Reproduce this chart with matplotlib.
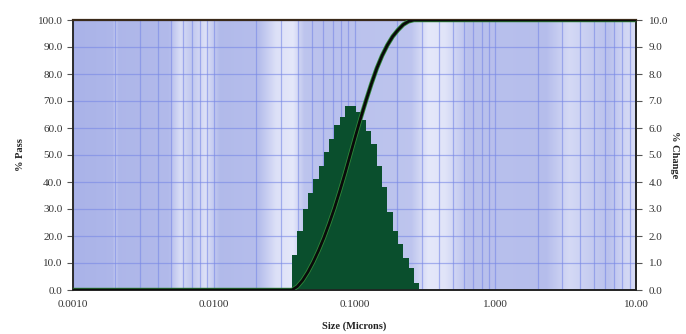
import matplotlib
matplotlib.use("Agg")
import matplotlib.pyplot as plt
from matplotlib.ticker import FixedLocator, FixedFormatter, LogLocator, NullFormatter
import numpy as np

# channel edges (microns), 24 channels
size_edges = [0.0360, 0.03926, 0.04281, 0.04669, 0.05091, 0.05552, 0.06055, 0.06603,
              0.07200, 0.07852, 0.08563, 0.09338, 0.10183, 0.11105, 0.12110, 0.13206,
              0.14401, 0.15705, 0.17126, 0.18676, 0.20366, 0.22209, 0.24220, 0.26412,
              0.28802]
# % change per channel (right axis)
pct_change = [1.3, 2.2, 3.0, 3.6, 4.1, 4.6, 5.1, 5.6, 6.1, 6.4, 6.8, 6.8,
              6.6, 6.3, 5.9, 5.4, 4.6, 3.8, 2.9, 2.2, 1.7, 1.2, 0.8, 0.25]
# cumulative % pass (left axis)
curve_size = [0.001] + size_edges + [10.0]
curve_pass = [0.0, 0.0, 1.3, 3.6, 6.7, 10.4, 14.6, 19.3, 24.6, 30.3, 36.6, 43.2, 50.2,
              57.2, 64.0, 70.4, 76.5, 82.1, 86.8, 90.7, 93.9, 96.3, 98.3, 99.5, 100.0,
              100.0, 100.0]

x_ticks = [0.001, 0.01, 0.1, 1.0, 10.0]
x_labels = ["0.0010", "0.0100", "0.1000", "1.000", "10.00"]
left_ticks = np.arange(0, 101, 10)
right_ticks = np.arange(0, 11, 1)

plt.rcParams["font.family"] = "Liberation Serif"

fig = plt.figure(figsize=(6.86, 3.34), dpi=100)
ax = fig.add_axes([73 / 686, 1 - 290 / 334, (636 - 73) / 686, 270 / 334])
ax.set_xscale("log")
ax.set_xlim(0.001, 10)
ax.set_ylim(0, 100)

# background: blue with light vertical bands
stops_x = [0.0, 0.07, 0.075, 0.08, 0.17, 0.19, 0.21, 0.235, 0.26, 0.33, 0.36, 0.39, 0.41,
           0.45, 0.60, 0.63, 0.66, 0.70, 0.84, 0.88, 0.92, 0.95, 0.98, 1.0]
stops_w = [0.10, 0.15, 0.45, 0.15, 0.20, 0.70, 0.40, 0.75, 0.20, 0.25, 0.75, 0.85, 0.35,
           0.30, 0.35, 0.85, 0.80, 0.30, 0.25, 0.65, 0.45, 0.30, 0.60, 0.70]
xs = np.linspace(0, 1, 800)
w = np.interp(xs, stops_x, stops_w)
blue = np.array([162, 172, 230]) / 255
white = np.array([240, 242, 253]) / 255
img = blue[None, :] * (1 - w[:, None]) + white[None, :] * w[:, None]
ax.imshow(img[None, :, :], extent=[0, 1, 0, 1], transform=ax.transAxes,
          aspect="auto", interpolation="bilinear", zorder=0)

ax.xaxis.set_major_locator(FixedLocator(x_ticks))
ax.xaxis.set_major_formatter(FixedFormatter(x_labels))
ax.xaxis.set_minor_locator(LogLocator(base=10, subs=range(2, 10)))
ax.xaxis.set_minor_formatter(NullFormatter())
ax.set_yticks(left_ticks)
ax.set_yticklabels(["%.1f" % v for v in left_ticks])
ax.grid(which="both", axis="x", color="#7888e6", lw=0.9, alpha=0.6)
ax.grid(which="major", axis="y", color="#7888e6", lw=0.9, alpha=0.6)
ax.tick_params(axis="x", which="both", length=0, pad=7, labelsize=8, labelcolor="#333333")
ax.tick_params(axis="y", length=4, width=0.8, color="#555555", labelsize=8, labelcolor="#333333")
ax.set_xlim(0.001, 10)
ax.set_ylim(0, 100)

ax2 = ax.twinx()
ax2.set_ylim(0, 10)
ax2.stairs(pct_change, size_edges, fill=True, color="#0a4f2d", zorder=2)
ax2.plot(curve_size, curve_pass, color="#2f8a3a", lw=3.2, transform=ax.transData, zorder=3,
         solid_capstyle="butt")
ax2.plot(curve_size, curve_pass, color="#0a0a0a", lw=2.0, transform=ax.transData, zorder=4,
         solid_capstyle="butt")
ax2.set_yticks(right_ticks)
ax2.set_yticklabels(["%.1f" % v for v in right_ticks])
ax2.tick_params(axis="y", length=4, width=0.8, color="#555555", labelsize=8,
                labelcolor="#333333", pad=5)
ax2.set_xlim(0.001, 10)

for a in (ax, ax2):
    for s in a.spines.values():
        s.set_color("#222222")
        s.set_linewidth(1.2)
ax.spines["left"].set_color("#666666")
ax2.spines["top"].set_color("#3a2a1a")
ax2.spines["top"].set_linewidth(1.6)

ax.set_ylabel("% Pass", fontsize=7.5, fontweight="bold", labelpad=9, color="#222222")
ax2.set_ylabel("% Change", fontsize=7.5, fontweight="bold", rotation=270, labelpad=8,
               color="#222222")
ax.set_xlabel("Size (Microns)", fontsize=7.5, fontweight="bold", labelpad=9, color="#222222")

fig.savefig("out.png", dpi=100)
